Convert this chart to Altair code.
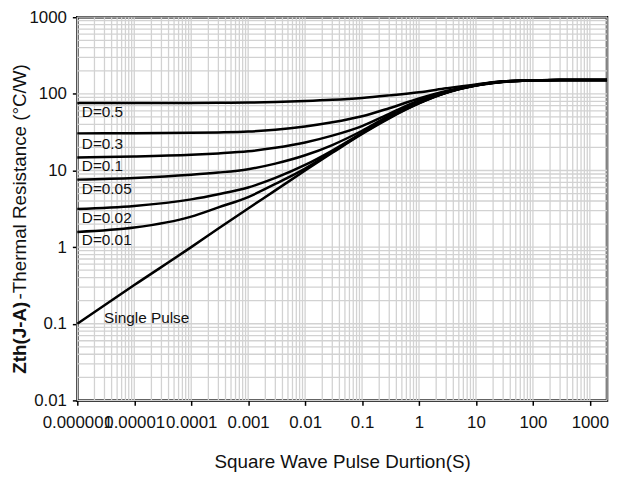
import altair as alt
import pandas as pd

# pulse duration (s)
t_values = [1e-6, 1e-5, 1e-4, 3e-4, 1e-3, 3e-3, 1e-2, 3e-2, 1e-1, 3e-1, 1, 3, 10, 30, 100, 300, 2000]
# Zth(J-A) (°C/W) for each duty cycle
single = [0.1, 0.32, 1.0, 1.75, 3.2, 5.5, 10, 17, 30, 48, 75, 103, 128, 143, 150, 152, 152]
d001 = [1.58, 1.8, 2.5, 3.3, 4.5, 6.7, 10.6, 17.5, 30.5, 49, 76, 103.5, 128.5, 143.5, 150, 152, 152]
d002 = [3.15, 3.45, 4.2, 4.9, 6.0, 8.0, 11.8, 18.2, 31, 50, 77, 104, 129, 144, 150, 152, 152]
d005 = [7.6, 8.0, 8.8, 9.4, 10.4, 12.3, 15.8, 21.5, 33, 52, 79, 105, 129.5, 144, 150, 152, 152]
d01 = [14.8, 15.2, 16.0, 16.7, 17.8, 19.8, 23.2, 28.5, 38, 55, 82, 106, 130, 144.5, 150, 152, 152]
d03 = [30.5, 30.7, 31.0, 31.4, 32.2, 34.0, 37.5, 42.5, 51, 65, 87, 109, 131, 145, 150, 152, 152]
d05 = [76, 76, 76.2, 76.5, 77, 78.3, 80.5, 83.5, 88.5, 95.5, 105, 118, 133, 146, 150, 152, 152]

series_names = ["Single Pulse", "D=0.01", "D=0.02", "D=0.05", "D=0.1", "D=0.3", "D=0.5"]
series_values = [single, d001, d002, d005, d01, d03, d05]

# curve labels
label_text = ["D=0.5", "D=0.3", "D=0.1", "D=0.05", "D=0.02", "D=0.01", "Single Pulse"]
label_t = [1.2e-6, 1.2e-6, 1.2e-6, 1.2e-6, 1.2e-6, 1.2e-6, 2.95e-6]
label_z = [57.5, 22, 11.5, 5.65, 2.38, 1.24, 0.118]

x_ticks = [1e-6, 1e-5, 1e-4, 1e-3, 1e-2, 1e-1, 1, 10, 100, 1000]
y_ticks = [0.01, 0.1, 1, 10, 100, 1000]

grid_x = [m * 10.0 ** e for e in range(-6, 3) for m in range(1, 10)] + [1000, 2000]
grid_y = [m * 10.0 ** e for e in range(-2, 3) for m in range(1, 10)] + [1000]

rows = []
for name, vals in zip(series_names, series_values):
    for t, z in zip(t_values, vals):
        rows.append({"series": name, "t": t, "z": z})
df = pd.DataFrame(rows)

FONT = "Liberation Sans"
xscale = alt.Scale(type="log", domain=[1e-6, 2000], nice=False)
yscale = alt.Scale(type="log", domain=[0.01, 1000], nice=False)

x_axis = alt.Axis(
    values=x_ticks, format="~f", grid=False, labelOverlap=False,
    labelFlush=False, labelFont=FONT, labelFontSize=17,
    labelColor="#111", tickColor="black", tickSize=5, tickWidth=1.5,
    labelPadding=9, domain=False,
    title="Square Wave Pulse Durtion(S)", titleFont=FONT,
    titleFontSize=19, titleFontWeight="normal", titleColor="#111",
    titlePadding=23,
)
y_axis = alt.Axis(
    values=y_ticks, format="~f", grid=False, labelOverlap=False,
    labelFlush=False, labelFont=FONT, labelFontSize=17,
    labelColor="#111", tickColor="black", tickSize=5, tickWidth=1.5,
    labelPadding=6, domain=False, title="",
)

X = alt.X("t:Q", scale=xscale, axis=x_axis)
Y = alt.Y("z:Q", scale=yscale, axis=y_axis)

grid_v = alt.Chart(pd.DataFrame({"t": grid_x})).mark_rule(
    color="#d2d2d2", strokeWidth=1.3
).encode(x=X)

grid_h = alt.Chart(pd.DataFrame({"z": grid_y})).mark_rule(
    color="#d2d2d2", strokeWidth=1.3
).encode(y=Y)

lines = alt.Chart(df).mark_line(
    color="black", strokeWidth=2.5, interpolate="monotone"
).encode(x=X, y=Y, detail="series:N")

labels = alt.Chart(pd.DataFrame({"t": label_t, "z": label_z, "text": label_text})).mark_text(
    align="left", baseline="middle", font=FONT, fontSize=15.5, color="#111"
).encode(x=X, y=Y, text="text:N")

ytitle_bold = alt.Chart(pd.DataFrame({"a": [0]})).mark_text(
    text="Zth(J-A)", angle=270, align="left", baseline="middle",
    font=FONT, fontSize=19, fontWeight="bold", color="#111"
).encode(x=alt.value(-58), y=alt.value(360))

ytitle_rest = alt.Chart(pd.DataFrame({"a": [0]})).mark_text(
    text="-Thermal  Resistance (°C/W)", angle=270, align="left", baseline="middle",
    font=FONT, fontSize=19, color="#111"
).encode(x=alt.value(-58), y=alt.value(285))

chart = alt.layer(grid_v, grid_h, lines, labels, ytitle_bold, ytitle_rest).properties(
    width=535, height=387, background="white",
    autosize=alt.AutoSizeParams(type="none"),
    padding={"left": 70, "top": 7, "right": 2, "bottom": 70},
).configure_view(stroke="black", strokeWidth=2.5)

chart.save("out.html", embed_options={"renderer": "svg", "actions": False})
